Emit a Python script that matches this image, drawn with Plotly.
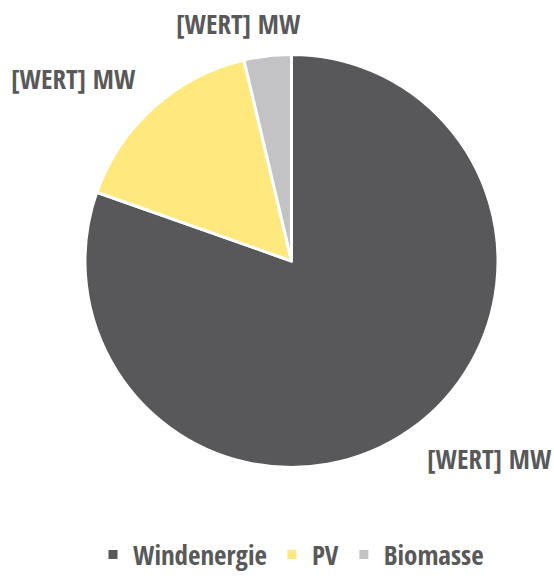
import plotly.graph_objects as go

categories = ["Windenergie", "PV", "Biomasse"]
values = [80.4, 15.9, 3.7]
label_text = ["[WERT] MW", "[WERT] MW", "[WERT] MW"]
colors = ["#58585A", "#FFE97F", "#C3C2C4"]

FONT = "Open Sans Condensed, Roboto Condensed, DejaVu Sans Condensed, sans-serif"
TXT = "#595959"

W, H = 554, 576
cx, cy, R = 291.5, 261, 206.5

fig = go.Figure(go.Pie(
    labels=categories,
    values=values,
    textinfo="none",
    marker=dict(colors=colors, line=dict(color="white", width=3)),
    sort=False,
    direction="clockwise",
    rotation=0,
    domain=dict(x=[(cx - R) / W, (cx + R) / W], y=[1 - (cy + R) / H, 1 - (cy - R) / H]),
    hoverinfo="label+value",
))

# data labels (placed like the original, outside each slice)
label_pos = {"Windenergie": (489.5, 458.5), "PV": (73, 78.5), "Biomasse": (238.5, 24)}
for cat, txt in zip(categories, label_text):
    px, py = label_pos[cat]
    fig.add_annotation(
        x=px / W, y=1 - py / H, xref="paper", yref="paper",
        xanchor="center", yanchor="middle", showarrow=False,
        text="<b>" + txt + "</b>",
        font=dict(family=FONT, size=27, color=TXT),
    )

fig.update_layout(
    width=W, height=H,
    margin=dict(l=0, r=0, t=0, b=0, autoexpand=False),
    paper_bgcolor="white",
    plot_bgcolor="white",
    showlegend=True,
    legend=dict(
        orientation="h", x=0.5 + 14 / W, xanchor="center", y=1 - 555 / H, yanchor="middle",
        font=dict(family=FONT, size=27, color=TXT, weight="bold"),
        entrywidth=0,
    ),
    font=dict(family=FONT, color=TXT),
)

fig.write_html(
    "out.html",
    config={"displayModeBar": False},
    post_script="document.body.style.margin='0';document.body.style.overflow='hidden';",
)
